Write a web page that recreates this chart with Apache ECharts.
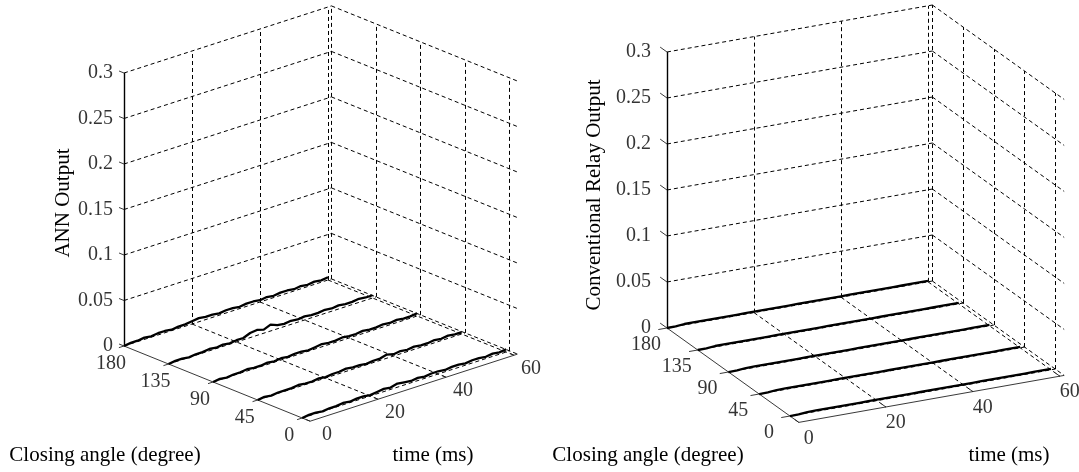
<!DOCTYPE html>
<html>
<head>
<meta charset="utf-8">
<script src="https://cdn.jsdelivr.net/npm/echarts@6/dist/echarts.min.js"></script>
<style>
html, body { margin: 0; padding: 0; background: #fff; }
#chart { width: 1079px; height: 472px; }
</style>
</head>
<body>
<div id="chart"></div>
<script>
// data
var timeMs = [0, 2, 4, 6, 8, 10, 12, 14, 16, 18, 20, 22, 24, 26, 28, 30, 32, 34, 36, 38, 40, 42, 44, 46, 48, 50, 52, 54, 56, 58, 60];
var angleTicks = [0, 45, 90, 135, 180];
var timeTicks = [0, 20, 40, 60];
var outputTicks = [0, 0.05, 0.1, 0.15, 0.2, 0.25, 0.3];

var annOutput180 = [0.000, 0.001, 0.001, 0.002, 0.001, 0.002, 0.002, 0.001, 0.002, 0.002, 0.003, 0.004, 0.003, 0.003, 0.002, 0.003, 0.003, 0.002, 0.003, 0.003, 0.002, 0.003, 0.002, 0.003, 0.003, 0.002, 0.003, 0.002, 0.003, 0.002, 0.003];
var annOutput135 = [0.000, 0.001, 0.001, 0.000, 0.001, 0.001, 0.002, 0.001, 0.002, 0.001, 0.002, 0.002, 0.005, 0.006, 0.004, 0.007, 0.004, 0.003, 0.004, 0.003, 0.004, 0.003, 0.003, 0.004, 0.003, 0.004, 0.003, 0.003, 0.004, 0.003, 0.003];
var annOutput90 = [0.000, 0.001, 0.000, 0.001, 0.001, 0.002, 0.001, 0.001, 0.002, 0.001, 0.002, 0.001, 0.002, 0.002, 0.001, 0.002, 0.003, 0.002, 0.002, 0.003, 0.002, 0.002, 0.003, 0.002, 0.002, 0.003, 0.002, 0.003, 0.002, 0.002, 0.003];
var annOutput45 = [0.000, 0.001, 0.000, 0.001, 0.001, 0.001, 0.002, 0.001, 0.001, 0.002, 0.001, 0.002, 0.002, 0.003, 0.002, 0.002, 0.001, 0.002, 0.002, 0.004, 0.002, 0.003, 0.002, 0.003, 0.002, 0.002, 0.003, 0.002, 0.003, 0.002, 0.002];
var annOutput0 = [0.000, 0.001, 0.001, 0.000, 0.001, 0.001, 0.002, 0.001, 0.002, 0.002, 0.001, 0.002, 0.003, 0.002, 0.004, 0.003, 0.002, 0.003, 0.002, 0.003, 0.003, 0.002, 0.003, 0.003, 0.002, 0.003, 0.003, 0.002, 0.003, 0.002, 0.003];

var relayOutput180 = [0.000, 0.000, 0.001, 0.001, 0.001, 0.001, 0.001, 0.001, 0.001, 0.001, 0.001, 0.001, 0.001, 0.001, 0.001, 0.001, 0.001, 0.001, 0.001, 0.001, 0.001, 0.001, 0.001, 0.001, 0.001, 0.001, 0.001, 0.001, 0.001, 0.001, 0.001];
var relayOutput135 = [0.000, 0.000, 0.001, 0.001, 0.001, 0.001, 0.001, 0.001, 0.001, 0.001, 0.001, 0.001, 0.001, 0.001, 0.001, 0.001, 0.001, 0.001, 0.001, 0.001, 0.001, 0.001, 0.001, 0.001, 0.001, 0.001, 0.001, 0.001, 0.001, 0.001, 0.001];
var relayOutput90 = [0.000, 0.000, 0.001, 0.001, 0.001, 0.001, 0.001, 0.001, 0.001, 0.001, 0.001, 0.001, 0.001, 0.001, 0.001, 0.001, 0.001, 0.001, 0.001, 0.001, 0.001, 0.001, 0.001, 0.001, 0.001, 0.001, 0.001, 0.001, 0.001, 0.001, 0.001];
var relayOutput45 = [0.000, 0.000, 0.001, 0.001, 0.001, 0.001, 0.001, 0.001, 0.001, 0.001, 0.001, 0.001, 0.001, 0.001, 0.001, 0.001, 0.001, 0.001, 0.001, 0.001, 0.001, 0.001, 0.001, 0.001, 0.001, 0.001, 0.001, 0.001, 0.001, 0.001, 0.001];
var relayOutput0 = [0.000, 0.000, 0.001, 0.001, 0.001, 0.001, 0.001, 0.001, 0.001, 0.001, 0.001, 0.001, 0.001, 0.001, 0.001, 0.001, 0.001, 0.001, 0.001, 0.001, 0.001, 0.001, 0.001, 0.001, 0.001, 0.001, 0.001, 0.001, 0.001, 0.001, 0.001];

var FONT = '"Liberation Serif", "Times New Roman", serif';

// orthographic views (screen units per data unit), origin = (t=0, angle=180, z=0)
var annView = {
    origin: [124, 346], t: [3.4, -1.1], a: [0.99, 0.4], z: -910,
    tMax: 61, aMin: -8, zTickLen: 5, aTickLen: 1.5, tTickLen: 4,
    zLabelDx: -11, aLabelOff: [-13, 18], tLabelOff: [17, 14],
    curves: [[180, annOutput180], [135, annOutput135], [90, annOutput90], [45, annOutput45], [0, annOutput0]]
};
var relayView = {
    origin: [667, 328], t: [4.35, -0.77], a: [0.683, 0.489], z: -920,
    tMax: 61, aMin: -13, zTickLen: 10, aTickLen: 2, tTickLen: 6,
    zLabelDx: -16, aLabelOff: [-21, 17], tLabelOff: [10, 16],
    curves: [[180, relayOutput180], [135, relayOutput135], [90, relayOutput90], [45, relayOutput45], [0, relayOutput0]]
};

function project(v, t, a, z) {
    var da = 180 - a;
    return [v.origin[0] + t * v.t[0] + da * v.a[0],
            v.origin[1] + t * v.t[1] + da * v.a[1] + z * v.z];
}

function seg(v, p, q) {
    return { coords: [project(v, p[0], p[1], p[2]), project(v, q[0], q[1], q[2])] };
}

function buildSeries(v) {
    var zTop = outputTicks[outputTicks.length - 1];
    var grid = [], axes = [], ticks = [];
    // back wall at angle = 180
    outputTicks.forEach(function (z) { grid.push(seg(v, [0, 180, z], [v.tMax, 180, z])); });
    timeTicks.slice(1).forEach(function (t) { grid.push(seg(v, [t, 180, 0], [t, 180, zTop])); });
    // back wall at time = tMax
    outputTicks.forEach(function (z) { grid.push(seg(v, [v.tMax, 180, z], [v.tMax, v.aMin, z])); });
    angleTicks.forEach(function (a) { grid.push(seg(v, [v.tMax, a, 0], [v.tMax, a, zTop])); });
    // floor
    timeTicks.slice(1).forEach(function (t) { grid.push(seg(v, [t, 180, 0], [t, v.aMin, 0])); });
    angleTicks.slice(0, 4).forEach(function (a) { grid.push(seg(v, [0, a, 0], [v.tMax, a, 0])); });

    // axis lines
    axes.push(seg(v, [0, 180, 0], [0, 180, zTop]));
    ticks.push(seg(v, [0, 180, 0], [0, v.aMin, 0]));
    ticks.push(seg(v, [0, v.aMin, 0], [v.tMax, v.aMin, 0]));
    outputTicks.forEach(function (z) { ticks.push(seg(v, [0, 180, z], [0, 180 + v.zTickLen, z])); });
    angleTicks.forEach(function (a) { ticks.push(seg(v, [0, a, 0], [-v.aTickLen, a, 0])); });
    timeTicks.forEach(function (t) { ticks.push(seg(v, [t, v.aMin, 0], [t, v.aMin + v.tTickLen, 0])); });

    var out = [];
    out.push({
        type: 'lines', coordinateSystem: 'cartesian2d', silent: true, z: 1,
        lineStyle: { color: '#000', width: 1, type: [4, 3], opacity: 1 },
        data: grid
    });
    out.push({
        type: 'lines', coordinateSystem: 'cartesian2d', silent: true, z: 3,
        lineStyle: { color: '#000', width: 1.4, type: 'solid', opacity: 1 },
        data: axes
    });
    out.push({
        type: 'lines', coordinateSystem: 'cartesian2d', silent: true, z: 3,
        lineStyle: { color: '#222', width: 0.9, type: 'solid', opacity: 1 },
        data: ticks
    });
    v.curves.forEach(function (c) {
        out.push({
            type: 'line', showSymbol: false, silent: true, z: 4,
            lineStyle: { color: '#000', width: 2.3 },
            data: timeMs.map(function (t, i) { return project(v, t, c[0], c[1][i]); })
        });
    });

    var labelStyle = { show: true, position: 'inside', color: '#000', fontFamily: FONT, fontSize: 20, formatter: '{b}' };
    out.push({
        type: 'scatter', symbolSize: 0, silent: true,
        label: Object.assign({}, labelStyle, { align: 'right', offset: [v.zLabelDx, 0] }),
        data: outputTicks.map(function (z) { return { name: String(z), value: project(v, 0, 180, z) }; })
    });
    out.push({
        type: 'scatter', symbolSize: 0, silent: true,
        label: Object.assign({}, labelStyle, { offset: v.aLabelOff }),
        data: angleTicks.map(function (a) { return { name: String(a), value: project(v, 0, a, 0) }; })
    });
    out.push({
        type: 'scatter', symbolSize: 0, silent: true,
        label: Object.assign({}, labelStyle, { offset: v.tLabelOff }),
        data: timeTicks.map(function (t) { return { name: String(t), value: project(v, t, v.aMin, 0) }; })
    });
    return out;
}

function title(text, x, y, rotate) {
    return {
        type: 'text', x: x, y: y, rotation: rotate ? Math.PI / 2 : 0,
        style: { text: text, fill: '#000', font: '21px ' + FONT, textAlign: 'center', textVerticalAlign: 'middle' }
    };
}

var myChart = echarts.init(document.getElementById('chart'));
myChart.setOption({
    animation: false,
    backgroundColor: '#fff',
    grid: { left: 0, right: 0, top: 0, bottom: 0 },
    xAxis: { type: 'value', min: 0, max: 1079, show: false },
    yAxis: { type: 'value', min: 0, max: 472, inverse: true, show: false },
    series: buildSeries(annView).concat(buildSeries(relayView)),
    graphic: [
        title('ANN Output', 63, 203, true),
        title('Closing angle (degree)', 105, 455),
        title('time (ms)', 433, 455),
        title('Conventional Relay Output', 594, 195, true),
        title('Closing angle (degree)', 648, 455),
        title('time (ms)', 1009, 455)
    ]
});
</script>
</body>
</html>
